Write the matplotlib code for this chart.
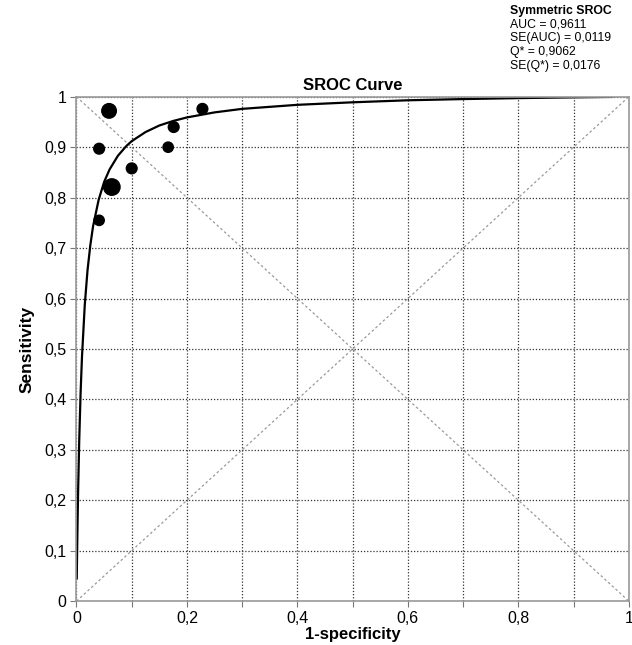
import matplotlib
matplotlib.use("Agg")
import matplotlib.pyplot as plt
import numpy as np

plt.rcParams['font.family'] = ['Liberation Sans', 'DejaVu Sans']

# Study points (1-specificity, sensitivity, relative size)
study_fpr = [0.059, 0.041, 0.100, 0.064, 0.041, 0.176, 0.166, 0.228]
study_sens = [0.972, 0.897, 0.858, 0.821, 0.755, 0.940, 0.900, 0.976]
study_size = [110, 60, 60, 140, 55, 60, 55, 60]

# SROC curve samples
curve_fpr = [0.0005, 0.001, 0.002, 0.003, 0.005, 0.0075, 0.01, 0.015, 0.02, 0.025,
             0.03, 0.04, 0.05, 0.06, 0.075, 0.09, 0.1, 0.125, 0.15, 0.175,
             0.2, 0.25, 0.3, 0.35, 0.4, 0.5, 0.6, 0.7, 0.8, 0.9, 0.97]
curve_sens = [0.045, 0.085, 0.157, 0.219, 0.319, 0.414, 0.485, 0.587, 0.656, 0.705,
              0.743, 0.795, 0.831, 0.856, 0.883, 0.902, 0.912, 0.930, 0.943, 0.952,
              0.959, 0.969, 0.976, 0.980, 0.984, 0.989, 0.993, 0.9954, 0.9973, 0.9988, 0.9997]

ticks = [0, 0.1, 0.2, 0.3, 0.4, 0.5, 0.6, 0.7, 0.8, 0.9, 1]
xtick_labels = ["0", "", "0,2", "", "0,4", "", "0,6", "", "0,8", "", "1"]
ytick_labels = ["0", "0,1", "0,2", "0,3", "0,4", "0,5", "0,6", "0,7", "0,8", "0,9", "1"]

annot_lines = ["AUC = 0,9611", "SE(AUC) = 0,0119", "Q* = 0,9062", "SE(Q*) = 0,0176"]

fig = plt.figure(figsize=(6.32, 6.45), dpi=100)
ax = fig.add_axes([0.121, 0.068, 0.874, 0.782])

ax.set_xlim(0, 1)
ax.set_ylim(0, 1)

# grid
ax.set_xticks(ticks)
ax.set_yticks(ticks)
ax.grid(True, color='#333333', linestyle=(0, (1, 1.5)), linewidth=0.9)
ax.set_axisbelow(True)

# diagonals
ax.plot([0, 1], [0, 1], color='#999999', linestyle=(0, (2, 2)), linewidth=0.9)
ax.plot([0, 1], [1, 0], color='#999999', linestyle=(0, (2, 2)), linewidth=0.9)

# curve
ax.plot(curve_fpr, curve_sens, color='black', linewidth=1.6)

# points
ax.scatter(study_fpr, study_sens, s=study_size, color='black', zorder=5)

for sp in ax.spines.values():
    sp.set_color('#999999')
    sp.set_linewidth(1.2)

ax.set_xticklabels(xtick_labels, fontsize=11.5)
ax.set_yticklabels(ytick_labels, fontsize=11.5)
ax.tick_params(axis='both', direction='out', length=4, color='#777777', pad=3)

ax.set_xlabel("1-specificity", fontsize=12, fontweight='bold', labelpad=1)
ax.set_ylabel("Sensitivity", fontsize=12.5, fontweight='bold', labelpad=7)
ax.set_title("SROC Curve", fontsize=12, fontweight='bold', pad=5)

fig.text(0.807, 0.993, "Symmetric SROC", fontsize=8.8, fontweight='bold', va='top', ha='left')
for i, line in enumerate(annot_lines):
    fig.text(0.807, 0.993 - 0.0215 * (i + 1), line, fontsize=8.8, va='top', ha='left')

fig.savefig("out.png", dpi=100)
